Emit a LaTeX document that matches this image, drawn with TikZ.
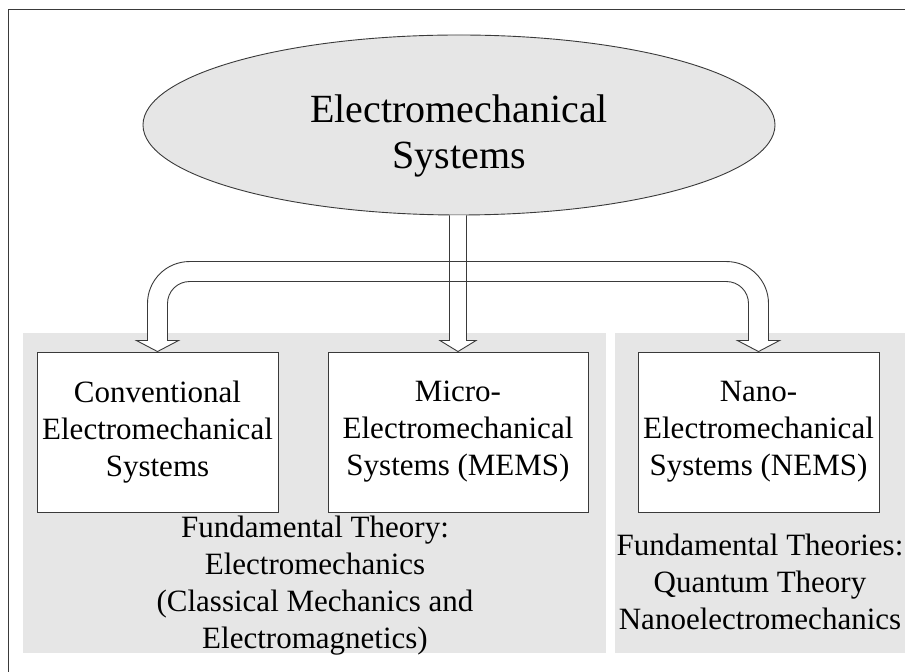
\documentclass[tikz,border=0pt]{standalone}
\usepackage{fontspec}
\setmainfont{Liberation Serif}
\usetikzlibrary{positioning,calc,shapes.geometric}
\definecolor{panelgray}{HTML}{E6E6E6}
\definecolor{edge}{HTML}{3A3A3A}
% hollow shaft from the ellipse down to the MEMS box
\newcommand\shaftpath{($(sys.south -| mems.north)+(-8.5,0)$) -- ($(mems.north)+(-8.5,11)$) -- ++(-9.5,0) -- (mems.north) -- ++(18,11) -- ++(-9.5,0) -- ($(sys.south -| mems.north)+(8.5,0)$)}

\begin{document}
\begin{tikzpicture}[x=1pt,y=1pt,every node/.style={align=center,text=black},panel/.style={fill=panelgray},sysbox/.style={draw=edge,fill=white,line width=0.9pt,minimum width=#1,minimum height=160pt,inner sep=0pt,font=\fontsize{31}{37}\selectfont},hollow/.style={draw=edge,line width=0.9pt,fill=white},theory/.style={anchor=north,inner sep=0pt,font=\fontsize{31}{37}\selectfont}]
\useasboundingbox (0,0) rectangle (905,672);
\clip (0,0) rectangle (905,672);
\draw[edge,line width=0.9pt] (8,-5) rectangle (920,663);
% shaded groups
\fill[panel] (23,19) rectangle (606,339);
\fill[panel] (615,19) rectangle (920,339);
% the three kinds of systems
\node[sysbox=241pt] (conv) at (157.5,240) {Conventional\\Electromechanical\\Systems};
\node[sysbox=260pt] (mems) at (458,240) {Micro-\\Electromechanical\\Systems (MEMS)};
\node[sysbox=241pt] (nems) at (758.5,240) {Nano-\\Electromechanical\\Systems (NEMS)};
\node[ellipse,draw=edge,fill=panelgray,line width=0.9pt,minimum width=632pt,minimum height=180pt,inner sep=0pt] (sys) at (459,547) {};
\node[anchor=north,inner sep=0pt,font=\fontsize{40}{46}\selectfont] (systext) at (459,577) {Electromechanical\\Systems};
% block arrows
\fill[white] \shaftpath;
\draw[hollow] (conv.north) -- ++(21,11) -- ++(-11,0) -- ++(0,37) arc[start angle=180,end angle=90,radius=22] -- ($(nems.north)+(-32,70)$) arc[start angle=90,end angle=0,radius=22] -- ++(0,-37) -- ++(-11,0) -- (nems.north) -- ++(21,11) -- ++(-11,0) -- ++(0,37) arc[start angle=0,end angle=90,radius=42] -- ($(conv.north)+(32,90)$) arc[start angle=90,end angle=180,radius=42] -- ++(0,-37) -- ++(-11,0) -- cycle;
\draw[edge,line width=0.9pt] \shaftpath;
% theory notes
\node[theory] (classic) at (315,156) {Fundamental Theory:\\Electromechanics\\(Classical Mechanics and\\Electromagnetics)};
\node[theory] (quantum) at (760,138) {Fundamental Theories:\\Quantum Theory\\Nanoelectromechanics};
\end{tikzpicture}
\end{document}
